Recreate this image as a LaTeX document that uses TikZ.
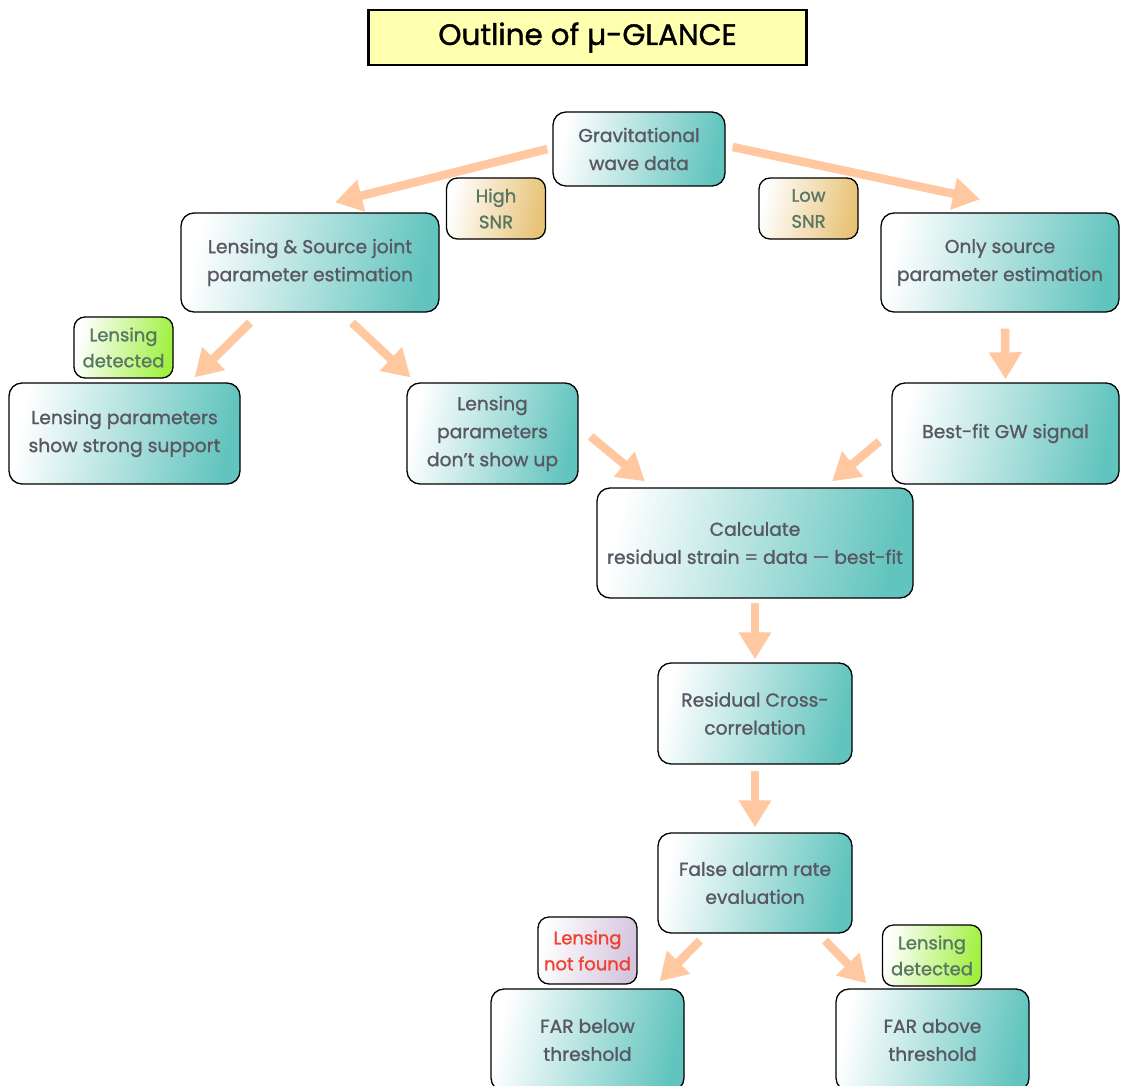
\documentclass[tikz,border=0pt]{standalone}
\usepackage{fontspec}
\setmainfont{Poppins}[RawFeature={embolden=1.2}]
\usetikzlibrary{arrows.meta}
\definecolor{tealc}{RGB}{98,196,190}
\definecolor{goldc}{RGB}{232,194,118}
\definecolor{greenc}{RGB}{160,240,64}
\definecolor{lavc}{RGB}{212,196,222}
\definecolor{titlec}{RGB}{255,255,176}
\definecolor{txtc}{RGB}{88,88,98}
\definecolor{lblc}{RGB}{88,118,98}
\definecolor{redc}{RGB}{240,64,48}
\definecolor{peach}{RGB}{255,200,160}
\tikzset{
  box/.style={draw=black, line width=1.3pt, rounded corners=13pt, top color=white, bottom color=tealc, shading angle=78,
    align=center, text=txtc, font=\fontsize{18.7}{28}\selectfont, inner sep=0pt},
  tag/.style={draw=black, line width=1.3pt, rounded corners=11pt, top color=white, bottom color=#1, shading angle=78,
    align=center, text=lblc, font=\fontsize{18}{26}\selectfont, inner sep=0pt, minimum width=99pt, minimum height=61pt},
  arr/.style={draw=peach, line width=8.5pt, -{Triangle[length=27pt,width=31pt]}},
}
\begin{document}
\begin{tikzpicture}[x=1pt,y=-1pt]
\clip (0,0) rectangle (1121,1086);
\fill[white] (0,0) rectangle (1121,1086);
% title
\node[draw=black, line width=2.8pt, fill=titlec, minimum width=438pt, minimum height=55pt, inner sep=0pt,
  font=\fontsize{29.5}{34}\selectfont] (title) at (587.5,37.5) {Outline of µ-GLANCE};
% main boxes
\node[box, minimum width=172pt, minimum height=74pt] (gw) at (639,149) {Gravitational\\wave data};
\node[box, minimum width=258pt, minimum height=99pt] (joint) at (310,262.5) {Lensing \& Source joint\\parameter estimation};
\node[box, minimum width=238pt, minimum height=99pt] (only) at (1000,262.5) {Only source\\parameter estimation};
\node[box, minimum width=231pt, minimum height=101pt] (strong) at (124.5,433.5) {Lensing parameters\\show strong support};
\node[box, minimum width=171pt, minimum height=101pt] (dont) at (492.5,433.5) {Lensing\\parameters\\don't show up};
\node[box, minimum width=227pt, minimum height=101pt] (bestfit) at (1005.5,433.5) {Best-fit GW signal};
\node[box, minimum width=316pt, minimum height=110pt] (calc) at (755,543) {Calculate\\residual strain = data --- best-fit};
\node[box, minimum width=194pt, minimum height=101pt] (resid) at (755,713.5) {Residual Cross-\\correlation};
\node[box, minimum width=194pt, minimum height=100pt] (far) at (755,883) {False alarm rate\\evaluation};
\node[box, minimum width=193pt, minimum height=102pt] (below) at (587.5,1040) {FAR below\\threshold};
\node[box, minimum width=193pt, minimum height=102pt] (above) at (932.5,1040) {FAR above\\threshold};
% tags
\node[tag=goldc] (high) at (496,208.5) {High\\SNR};
\node[tag=goldc] (low) at (808.5,208.5) {Low\\SNR};
\node[tag=greenc] (det1) at (123.5,347.5) {Lensing\\detected};
\node[tag=lavc, text=redc, minimum height=67pt] (notfound) at (587.5,950.5) {Lensing\\not found};
\node[tag=greenc] (det2) at (932,955.5) {Lensing\\detected};
% arrows
\draw[arr] ([xshift=-5pt]gw.west) -- ([xshift=25pt,yshift=10pt]joint.north);
\draw[arr] ([xshift=7pt,yshift=2pt]gw.east) -- ([xshift=-20pt,yshift=13pt]only.north);
\draw[arr] ([xshift=-60pt,yshift=-10pt]joint.south) -- ([xshift=70pt,yshift=5pt]strong.north);
\draw[arr] ([xshift=42pt,yshift=-10pt]joint.south) -- ([xshift=-82pt,yshift=5pt]dont.north);
\draw[arr] ([xshift=5pt,yshift=-16pt]only.south) -- ([yshift=3pt]bestfit.north);
\draw[arr] ([xshift=12pt,yshift=-3pt]dont.east) -- ([xshift=-110pt,yshift=6pt]calc.north);
\draw[arr] ([xshift=-12pt,yshift=-8pt]bestfit.west) -- ([xshift=77pt,yshift=6pt]calc.north);
\draw[arr] ([yshift=-4pt]calc.south) -- ([yshift=3pt]resid.north);
\draw[arr] ([yshift=-6pt]resid.south) -- ([yshift=5pt]far.north);
\draw[arr] ([xshift=-55pt,yshift=-7pt]far.south) -- ([xshift=72pt,yshift=7pt]below.north);
\draw[arr] ([xshift=70pt,yshift=-7pt]far.south) -- ([xshift=-66pt,yshift=5pt]above.north);
\end{tikzpicture}
\end{document}
